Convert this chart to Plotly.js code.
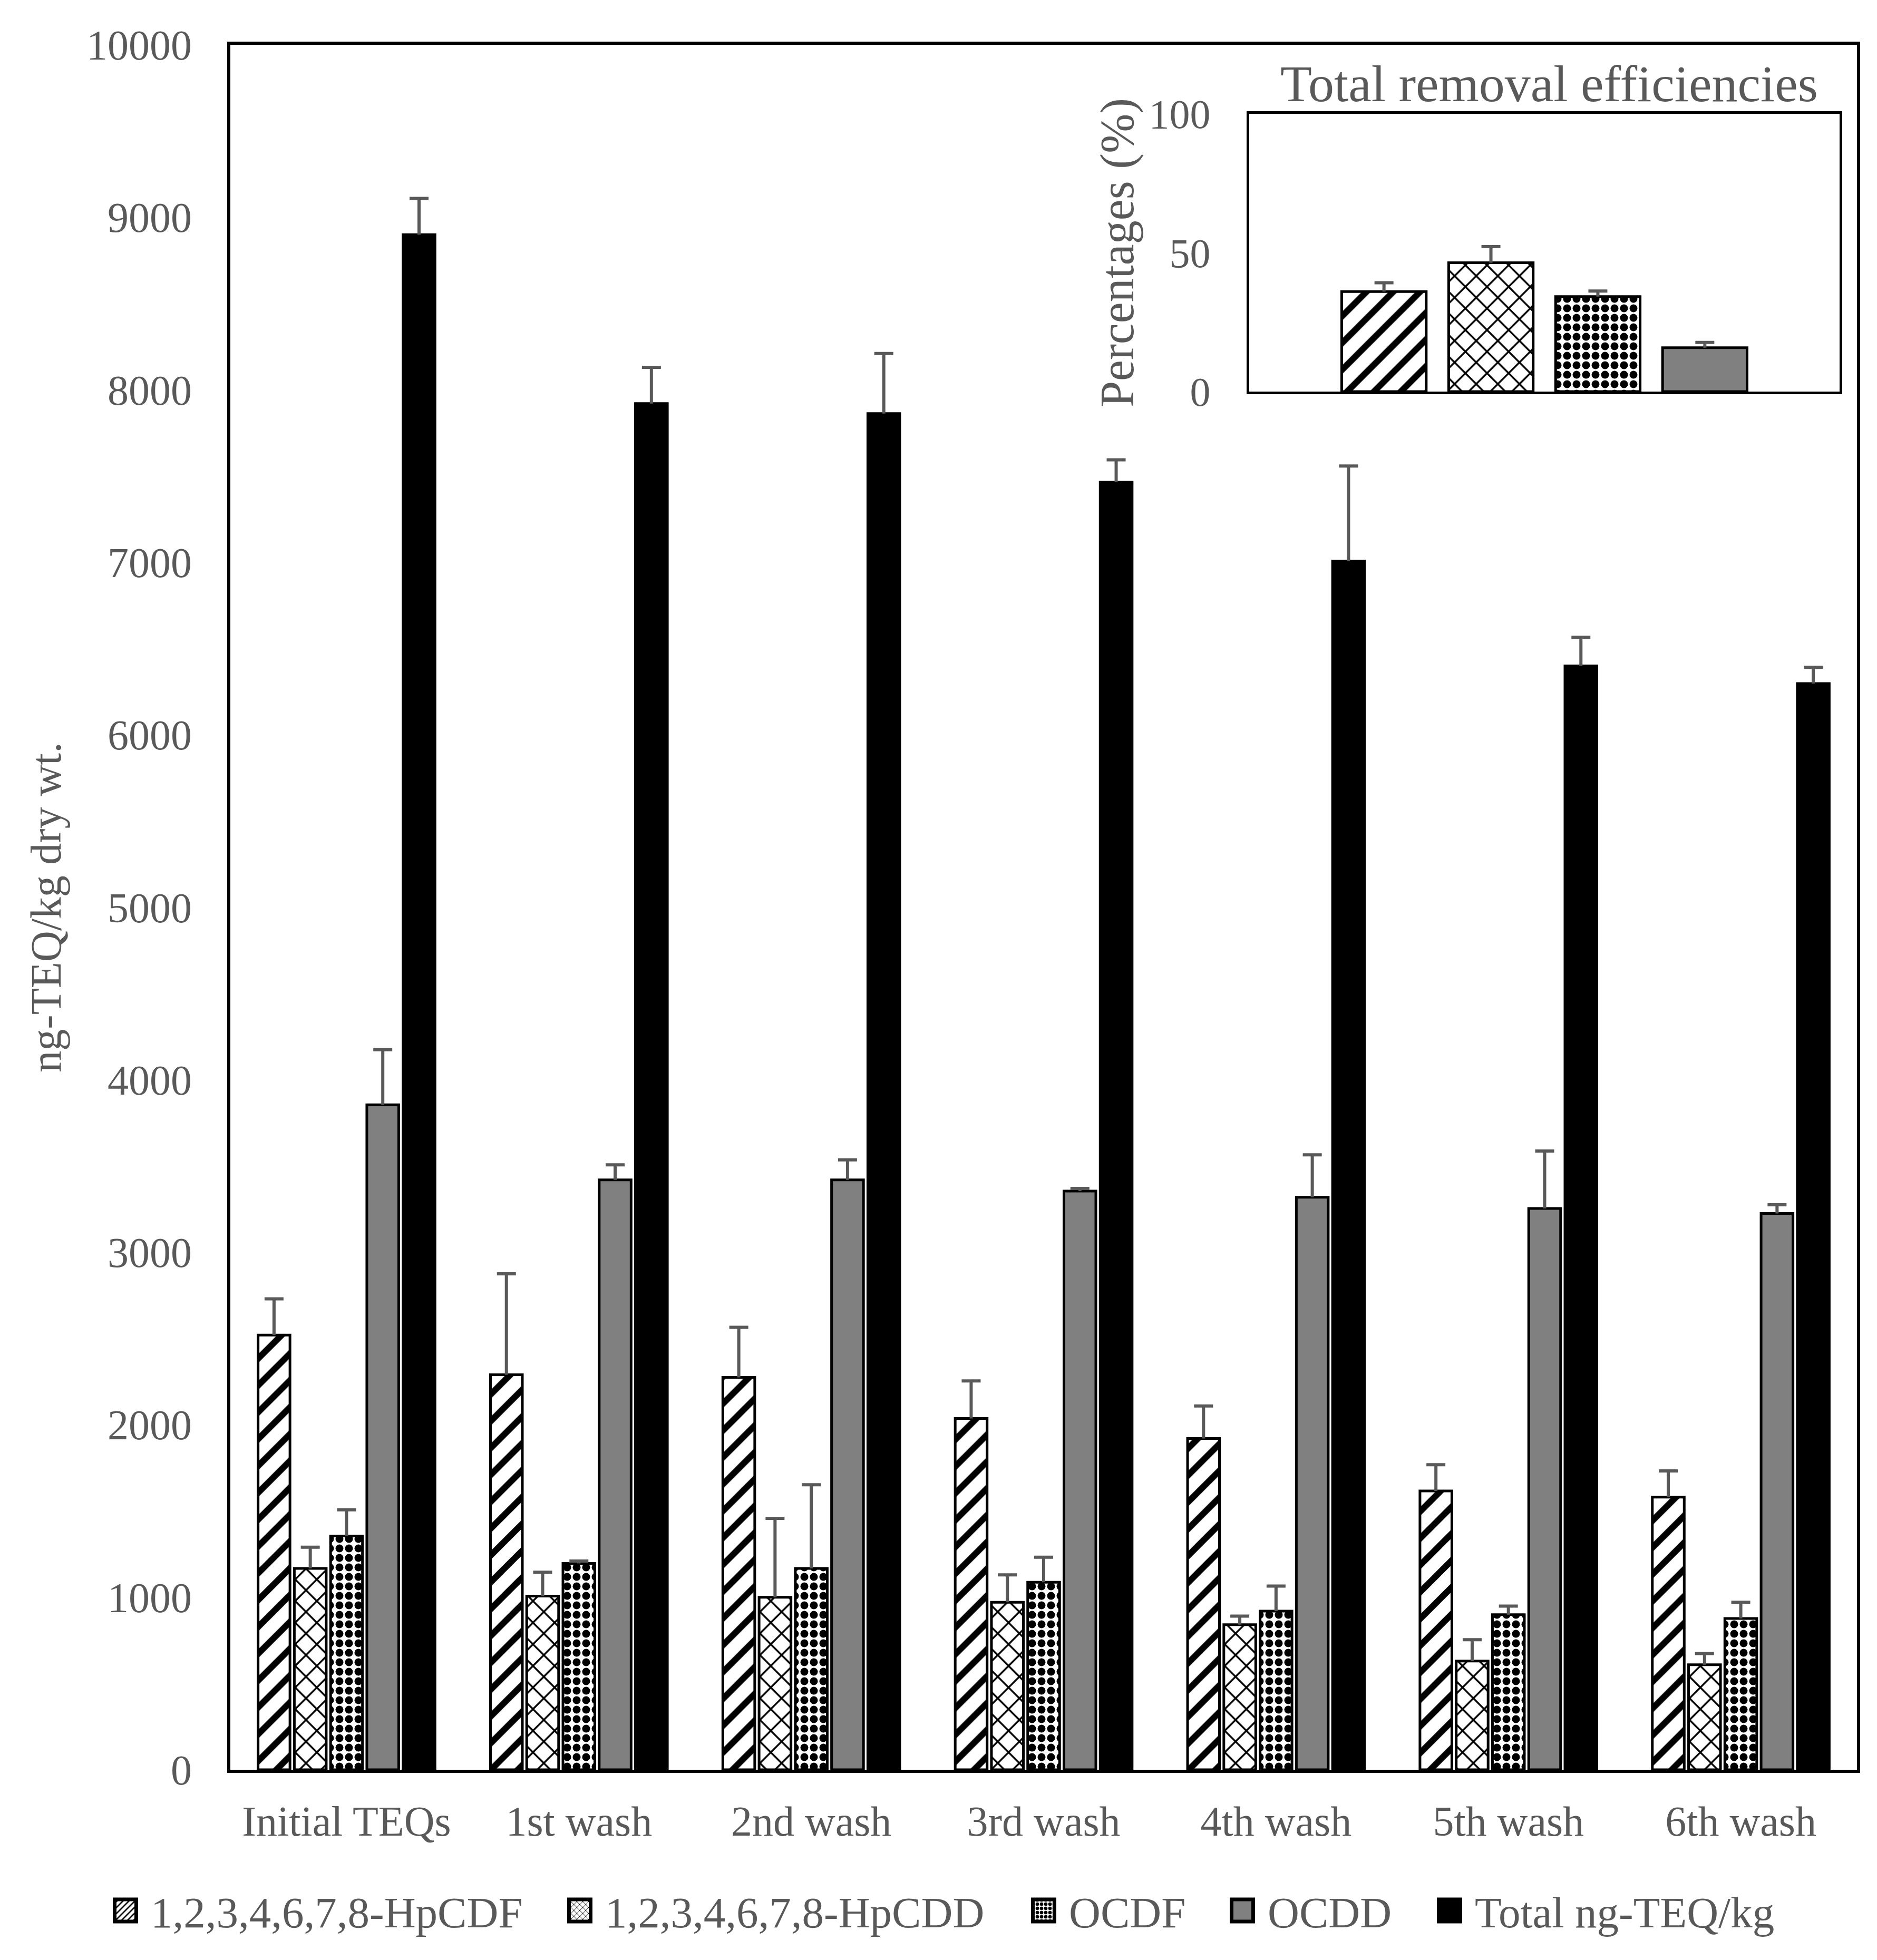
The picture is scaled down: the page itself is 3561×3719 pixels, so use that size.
<!DOCTYPE html>
<html>
<head>
<meta charset="utf-8">
<script src="https://cdn.plot.ly/plotly-3.0.1.min.js"></script>
<style>
html,body{margin:0;padding:0;background:#ffffff;}
#chart{width:3561px;height:3719px;}
</style>
</head>
<body>
<div id="chart"></div>
<script>
// ---- data ----
const categories = ["Initial TEQs", "1st wash", "2nd wash", "3rd wash", "4th wash", "5th wash", "6th wash"];
const seriesNames = ["1,2,3,4,6,7,8-HpCDF", "1,2,3,4,6,7,8-HpCDD", "OCDF", "OCDD", "Total ng-TEQ/kg"];

const hpcdf      = [2520, 2290, 2275, 2036, 1920, 1616, 1580];
const hpcdfErr   = [210, 585, 290, 218, 189, 152, 152];
const hpcdd      = [1167, 1007, 1000, 971, 841, 630, 609];
const hpcddErr   = [123, 138, 457, 159, 50, 124, 65];
const ocdf       = [1355, 1196, 1167, 1087, 920, 899, 877];
const ocdfErr    = [152, 14, 485, 145, 145, 50, 94];
const ocdd       = [3855, 3420, 3420, 3355, 3319, 3254, 3225];
const ocddErr    = [319, 87, 116, 15, 246, 333, 50];
const total      = [8899, 7920, 7862, 7464, 7007, 6399, 6297];
const totalErr   = [210, 210, 348, 130, 551, 166, 94];

const insetCategories = ["1,2,3,4,6,7,8-HpCDF", "1,2,3,4,6,7,8-HpCDD", "OCDF", "OCDD"];
const removalEff    = [36.0, 46.4, 34.2, 15.8];
const removalEffErr = [3.2, 5.8, 2.0, 1.9];

const yTickVals   = [0, 1000, 2000, 3000, 4000, 5000, 6000, 7000, 8000, 9000, 10000];
const yTickLabels = ["0", "1000", "2000", "3000", "4000", "5000", "6000", "7000", "8000", "9000", "10000"];
const insetTickVals   = [0, 50, 100];
const insetTickLabels = ["0", "50", "100"];

// ---- styles ----
const FONT = "Liberation Serif, Times New Roman, serif";
const TXT = "#595959";
const ERRC = "#595959";
const W = 3561, H = 3719;

const styles = [
  {color: "#ffffff", pattern: {shape: "/", fgcolor: "#000000", bgcolor: "#ffffff", size: 36, solidity: 0.33, fillmode: "replace"}},
  {color: "#ffffff", pattern: {shape: "x", fgcolor: "#000000", bgcolor: "#ffffff", size: 29, solidity: 0.22, fillmode: "replace"}},
  {color: "#ffffff", pattern: {shape: ".", fgcolor: "#000000", bgcolor: "#ffffff", size: 18, solidity: 0.55, fillmode: "replace"}},
  {color: "#808080"},
  {color: "#000000"}
];
const values = [hpcdf, hpcdd, ocdf, ocdd, total];
const errs = [hpcdfErr, hpcddErr, ocdfErr, ocddErr, totalErr];
const legendIds = ["legend", "legend2", "legend3", "legend4", "legend5"];
// left edge (px) of each legend entry
const legendLeft = [190, 1052, 1932, 2309, 2702];

const traces = values.map((v, i) => ({
  type: "bar",
  name: seriesNames[i],
  legend: legendIds[i],
  x: categories,
  y: v,
  xaxis: "x",
  yaxis: "y",
  marker: Object.assign({line: {color: "#000000", width: 5}}, styles[i]),
  error_y: {type: "data", symmetric: false, array: errs[i], color: ERRC, thickness: 6, width: 18},
  hoverinfo: "y"
}));

insetCategories.forEach((c, i) => {
  traces.push({
    type: "bar",
    name: c,
    showlegend: false,
    x: [c],
    y: [removalEff[i]],
    xaxis: "x2",
    yaxis: "y2",
    offsetgroup: "eff",
    width: 0.79,
    marker: Object.assign({line: {color: "#000000", width: 5}}, styles[i]),
    error_y: {type: "data", symmetric: false, array: [removalEffErr[i]], color: ERRC, thickness: 6, width: 18},
    hoverinfo: "y"
  });
});

const mainX0 = 437 / W, mainX1 = 3523 / W;
const mainY0 = (H - 3358) / H, mainY1 = (H - 85) / H;
const inX0 = 2370 / W, inX1 = 3490 / W;
const inY0 = (H - 743) / H, inY1 = (H - 216) / H;

const layout = {
  width: W,
  height: H,
  margin: {l: 0, r: 0, t: 0, b: 0},
  paper_bgcolor: "#ffffff",
  plot_bgcolor: "#ffffff",
  font: {family: FONT, size: 80, color: TXT},
  barmode: "group",
  bargap: 0.22,
  bargroupgap: 0.12,
  showlegend: true,
  xaxis: {
    domain: [mainX0, mainX1],
    anchor: "y",
    type: "category",
    range: [-0.5, 6.5],
    showline: true, linecolor: "#000000", linewidth: 6, mirror: true,
    ticks: "", showgrid: false, zeroline: false,
    tickfont: {family: FONT, size: 80, color: TXT},
    ticklabelstandoff: 23
  },
  yaxis: {
    domain: [mainY0, mainY1],
    anchor: "x",
    range: [0, 10000],
    tickvals: yTickVals,
    ticktext: yTickLabels,
    showline: true, linecolor: "#000000", linewidth: 6, mirror: true,
    ticks: "", showgrid: false, zeroline: false,
    tickfont: {family: FONT, size: 80, color: TXT},
    ticklabelstandoff: 51,
    title: {text: "ng-TEQ/kg dry wt.", font: {family: FONT, size: 82, color: TXT}, standoff: 23}
  },
  xaxis2: {
    domain: [inX0, inX1],
    anchor: "y2",
    type: "category",
    range: [-1.26, 4.26],
    showline: true, linecolor: "#000000", linewidth: 5, mirror: true,
    ticks: "", showticklabels: false, showgrid: false, zeroline: false
  },
  yaxis2: {
    domain: [inY0, inY1],
    anchor: "x2",
    range: [0, 100],
    tickvals: insetTickVals,
    ticktext: insetTickLabels,
    showline: true, linecolor: "#000000", linewidth: 5, mirror: true,
    ticks: "", showgrid: false, zeroline: false,
    tickfont: {family: FONT, size: 78, color: TXT},
    ticklabelstandoff: 53,
    title: {text: "Percentages (%)", font: {family: FONT, size: 90, color: TXT}, standoff: 0}
  },
  annotations: [{
    text: "Total removal efficiencies",
    xref: "paper", yref: "paper",
    x: 2939 / W, y: (H - 159) / H,
    xanchor: "center", yanchor: "middle",
    showarrow: false,
    font: {family: FONT, size: 98, color: TXT}
  }]
};

legendIds.forEach((id, i) => {
  layout[id] = {
    orientation: "h",
    x: legendLeft[i] / W, xanchor: "left",
    y: (H - 3625) / H, yanchor: "middle",
    font: {family: FONT, size: 83, color: TXT},
    itemwidth: 86,
    borderwidth: 0,
    bgcolor: "rgba(0,0,0,0)"
  };
});

Plotly.newPlot("chart", traces, layout, {staticPlot: true}).then(function (gd) {
  // one-sided error bars: drop the zero-length lower cap
  gd.querySelectorAll("path.yerror").forEach(function (p) {
    var d = p.getAttribute("d") || "";
    p.setAttribute("d", d.replace(/m-[\d.]+,0h[\d.]+$/, ""));
  });
  // larger legend swatches with a heavy black frame, as in the reference
  gd.querySelectorAll(".legendpoints path").forEach(function (p) {
    p.setAttribute("d", "M20.5,21H-20.5V-21H20.5Z");
    p.style.setProperty("stroke", "#000000", "important");
    p.style.setProperty("stroke-width", "7px", "important");
    p.style.setProperty("stroke-opacity", "1", "important");
  });
});
</script>
</body>
</html>
